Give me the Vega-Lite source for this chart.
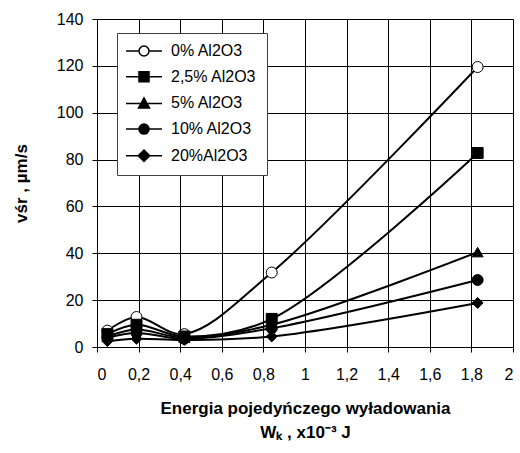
{
  "$schema": "https://vega.github.io/schema/vega-lite/v6.json",
  "width": 416,
  "height": 328,
  "autosize": {"type": "none"},
  "padding": {"left": 97, "top": 19, "right": 7, "bottom": 106},
  "background": "white",
  "config": {
    "font": "Liberation Sans",
    "view": {"stroke": "black", "strokeWidth": 1},
    "axis": {
      "domain": false,
      "grid": true,
      "gridColor": "black",
      "gridWidth": 1,
      "gridOpacity": 1,
      "ticks": true,
      "tickSize": 5,
      "tickColor": "black",
      "tickWidth": 1,
      "labelFont": "Liberation Sans",
      "labelFontSize": 16,
      "labelColor": "black",
      "titleFont": "Liberation Sans",
      "titleFontSize": 17,
      "titleFontWeight": "bold",
      "titleColor": "black"
    }
  },
  "data": {
    "values": [
      {"series": "0% Al2O3", "x": 0.05, "y": 7},
      {"series": "0% Al2O3", "x": 0.19, "y": 12.8},
      {"series": "0% Al2O3", "x": 0.42, "y": 5.5},
      {"series": "0% Al2O3", "x": 0.84, "y": 31.8},
      {"series": "0% Al2O3", "x": 1.83, "y": 119.5},
      {"series": "2,5% Al2O3", "x": 0.05, "y": 5.5},
      {"series": "2,5% Al2O3", "x": 0.19, "y": 9.5},
      {"series": "2,5% Al2O3", "x": 0.42, "y": 4.5},
      {"series": "2,5% Al2O3", "x": 0.84, "y": 12},
      {"series": "2,5% Al2O3", "x": 1.83, "y": 82.8},
      {"series": "5% Al2O3", "x": 0.05, "y": 4.5},
      {"series": "5% Al2O3", "x": 0.19, "y": 7.5},
      {"series": "5% Al2O3", "x": 0.42, "y": 4},
      {"series": "5% Al2O3", "x": 0.84, "y": 9.5},
      {"series": "5% Al2O3", "x": 1.83, "y": 40.5},
      {"series": "10% Al2O3", "x": 0.05, "y": 4},
      {"series": "10% Al2O3", "x": 0.19, "y": 6},
      {"series": "10% Al2O3", "x": 0.42, "y": 3.5},
      {"series": "10% Al2O3", "x": 0.84, "y": 8},
      {"series": "10% Al2O3", "x": 1.83, "y": 28.6},
      {"series": "20%Al2O3", "x": 0.05, "y": 2.5},
      {"series": "20%Al2O3", "x": 0.19, "y": 3.5},
      {"series": "20%Al2O3", "x": 0.42, "y": 3},
      {"series": "20%Al2O3", "x": 0.84, "y": 4.5},
      {"series": "20%Al2O3", "x": 1.83, "y": 18.8}
    ]
  },
  "encoding": {
    "x": {
      "field": "x",
      "type": "quantitative",
      "scale": {"domain": [0, 2], "nice": false, "zero": false},
      "axis": {
        "values": [0, 0.2, 0.4, 0.6, 0.8, 1, 1.2, 1.4, 1.6, 1.8, 2],
        "labelExpr": "replace(format(datum.value, '~g'), '.', ',')",
        "labelPadding": 14,
        "title": ["Energia pojedyńczego wyładowania", "Wₖ , x10⁻³ J"],
        "titleLineHeight": 24,
        "titlePadding": 18
      }
    },
    "y": {
      "field": "y",
      "type": "quantitative",
      "scale": {"domain": [0, 140], "nice": false},
      "axis": {
        "values": [0, 20, 40, 60, 80, 100, 120, 140],
        "labelPadding": 9,
        "title": "vśr , µm/s",
        "titlePadding": 26
      }
    }
  },
  "layer": [
    {
      "mark": {"type": "line", "interpolate": "catmull-rom", "color": "black", "strokeWidth": 2},
      "encoding": {"detail": {"field": "series"}}
    },
    {
      "mark": {"type": "point", "filled": true, "size": 120, "stroke": "black", "strokeWidth": 1, "opacity": 1},
      "encoding": {
        "shape": {
          "field": "series",
          "scale": {
            "domain": ["0% Al2O3", "2,5% Al2O3", "5% Al2O3", "10% Al2O3", "20%Al2O3"],
            "range": ["circle", "square", "triangle-up", "circle", "diamond"]
          },
          "legend": null
        },
        "fill": {
          "field": "series",
          "scale": {
            "domain": ["0% Al2O3", "2,5% Al2O3", "5% Al2O3", "10% Al2O3", "20%Al2O3"],
            "range": ["white", "black", "black", "black", "black"]
          },
          "legend": null
        }
      }
    },
    {
      "mark": {"type": "point", "filled": true, "size": 100, "opacity": 0},
      "encoding": {
        "shape": {
          "field": "series",
          "scale": {
            "domain": ["0% Al2O3", "2,5% Al2O3", "5% Al2O3", "10% Al2O3", "20%Al2O3"],
            "range": [
              "M-3.6,0H-1M1,0H3.6M-1,0A1,1 0 1,1 1,0A1,1 0 1,1 -1,0Z",
              "M-3.6,0H3.6M-1,-1H1V1H-1Z",
              "M-3.6,0H3.6M0,-1.1L1.1,0.9H-1.1Z",
              "M-3.6,0H3.6M-1,0A1,1 0 1,1 1,0A1,1 0 1,1 -1,0Z",
              "M-3.6,0H3.6M0,-1.15L1.15,0L0,1.15L-1.15,0Z"
            ]
          },
          "legend": {"title": null, "orient": "none", "legendX": 20, "legendY": 14, "padding": 10, "fillColor": "white", "strokeColor": "#404040", "labelFont": "Liberation Sans", "labelFontSize": 16, "labelColor": "black", "symbolOffset": 9, "labelOffset": 19, "rowPadding": 9.7, "symbolSize": 100, "symbolStrokeWidth": 1.5, "symbolOpacity": 1}
        },
        "fill": {
          "field": "series",
          "scale": {
            "domain": ["0% Al2O3", "2,5% Al2O3", "5% Al2O3", "10% Al2O3", "20%Al2O3"],
            "range": ["white", "black", "black", "black", "black"]
          },
          "legend": {"title": null, "orient": "none", "legendX": 20, "legendY": 14, "padding": 10, "fillColor": "white", "strokeColor": "#404040", "labelFont": "Liberation Sans", "labelFontSize": 16, "labelColor": "black", "symbolOffset": 9, "labelOffset": 19, "rowPadding": 9.7, "symbolSize": 100, "symbolStrokeWidth": 1.5, "symbolOpacity": 1}
        },
        "stroke": {
          "field": "series",
          "scale": {
            "domain": ["0% Al2O3", "2,5% Al2O3", "5% Al2O3", "10% Al2O3", "20%Al2O3"],
            "range": ["black", "black", "black", "black", "black"]
          },
          "legend": {"title": null, "orient": "none", "legendX": 20, "legendY": 14, "padding": 10, "fillColor": "white", "strokeColor": "#404040", "labelFont": "Liberation Sans", "labelFontSize": 16, "labelColor": "black", "symbolOffset": 9, "labelOffset": 19, "rowPadding": 9.7, "symbolSize": 100, "symbolStrokeWidth": 1.5, "symbolOpacity": 1}
        }
      }
    }
  ],
  "resolve": {"scale": {"shape": "independent", "fill": "independent", "stroke": "independent"}}
}
